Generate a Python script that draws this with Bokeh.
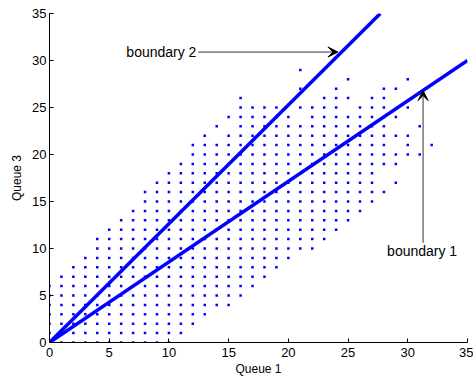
from bokeh.plotting import figure
from bokeh.models import Range1d, Arrow, VeeHead, Label, FixedTicker, ColumnDataSource
from bokeh.embed import file_html
from bokeh.resources import INLINE

# Visited states of (Queue 1, Queue 3): for each Queue 1 length,
# the runs (first, last) of Queue 3 lengths that were observed.
queue1_values = list(range(33))
queue3_runs = [
    [(0, 6)],                      # 0
    [(0, 7)],                      # 1
    [(0, 8)],                      # 2
    [(0, 9)],                      # 3
    [(0, 11)],                     # 4
    [(0, 12)],                     # 5
    [(0, 13)],                     # 6
    [(0, 14)],                     # 7
    [(0, 16)],                     # 8
    [(0, 17)],                     # 9
    [(0, 18)],                     # 10
    [(1, 19)],                     # 11
    [(2, 21)],                     # 12
    [(3, 22)],                     # 13
    [(4, 21), (23, 23)],           # 14
    [(4, 22), (24, 24)],           # 15
    [(5, 26)],                     # 16
    [(6, 25)],                     # 17
    [(7, 25)],                     # 18
    [(8, 25)],                     # 19
    [(9, 24)],                     # 20
    [(10, 23), (25, 25), (27, 27), (29, 29)],  # 21
    [(10, 25)],                    # 22
    [(11, 26)],                    # 23
    [(12, 27)],                    # 24
    [(13, 24), (26, 26), (28, 28)],  # 25
    [(14, 25)],                    # 26
    [(15, 26)],                    # 27
    [(16, 16), (19, 27)],          # 28
    [(17, 17), (19, 20), (22, 22), (24, 24), (27, 27)],  # 29
    [(20, 22), (25, 25), (28, 28)],  # 30
    [(20, 20), (23, 23)],          # 31
    [(21, 21)],                    # 32
]

# Switching boundaries (straight lines through the origin)
boundary1_x = [0, 35]
boundary1_y = [0, 30]
boundary2_x = [0, 27.7]
boundary2_y = [0, 35]

axis_ticks = [0, 5, 10, 15, 20, 25, 30, 35]

FONT = "Liberation Sans"

pts_x, pts_y = [], []
for q1, runs in zip(queue1_values, queue3_runs):
    for first, last in runs:
        for q3 in range(first, last + 1):
            pts_x.append(q1)
            pts_y.append(q3)
states = ColumnDataSource(dict(x=pts_x, y=pts_y))

p = figure(width=473, height=378, output_backend="svg", toolbar_location=None,
           x_range=Range1d(0, 35), y_range=Range1d(0, 35),
           min_border_left=49, min_border_right=6, min_border_top=13,
           min_border_bottom=36)
p.outline_line_color = None
p.grid.visible = False
p.background_fill_color = "white"
p.border_fill_color = "white"

p.scatter("x", "y", source=states, marker="square", size=2.5,
          fill_color="#0000ff", line_color=None)

p.line(boundary1_x, boundary1_y, line_width=3.5, line_color="#0000ff")
p.line(boundary2_x, boundary2_y, line_width=3.5, line_color="#0000ff")

for ax in (p.xaxis[0], p.yaxis[0]):
    ax.ticker = FixedTicker(ticks=axis_ticks)
    ax.major_tick_in = 4
    ax.major_tick_out = 0
    ax.minor_tick_line_color = None
    ax.axis_line_color = "black"
    ax.major_tick_line_color = "black"
    ax.major_label_text_font = FONT
    ax.major_label_text_font_size = "13px"
    ax.major_label_text_color = "black"
    ax.axis_label_text_font = FONT
    ax.axis_label_text_font_size = "12px"
    ax.axis_label_text_font_style = "normal"
    ax.axis_label_text_color = "black"

p.xaxis.axis_label = "Queue 1"
p.yaxis.axis_label = "Queue 3"
p.xaxis.major_label_standoff = 5
p.xaxis.axis_label_standoff = 2
p.yaxis.major_label_standoff = 3
p.yaxis.axis_label_standoff = 5

# Annotations pointing at each boundary
label2_pos = (12.3, 30.9)
arrow2 = dict(x_start=12.45, y_start=30.9, x_end=24.15, y_end=30.9)
label1_pos = (31.2, 9.75)
arrow1 = dict(x_start=31.28, y_start=10.6, x_end=31.28, y_end=26.8)

p.add_layout(Label(x=label2_pos[0], y=label2_pos[1], text="boundary 2",
                   text_align="right", text_baseline="middle",
                   text_font=FONT, text_font_size="14px", text_color="black"))
p.add_layout(Label(x=label1_pos[0], y=label1_pos[1], text="boundary 1",
                   text_align="center", text_baseline="middle",
                   text_font=FONT, text_font_size="14px", text_color="black"))

for a in (arrow2, arrow1):
    p.add_layout(Arrow(end=VeeHead(size=10, fill_color="black", line_color="black",
                                   line_width=1),
                       line_color="#333333", line_width=1, **a))

open("out.html", "w").write(file_html(p, INLINE))
